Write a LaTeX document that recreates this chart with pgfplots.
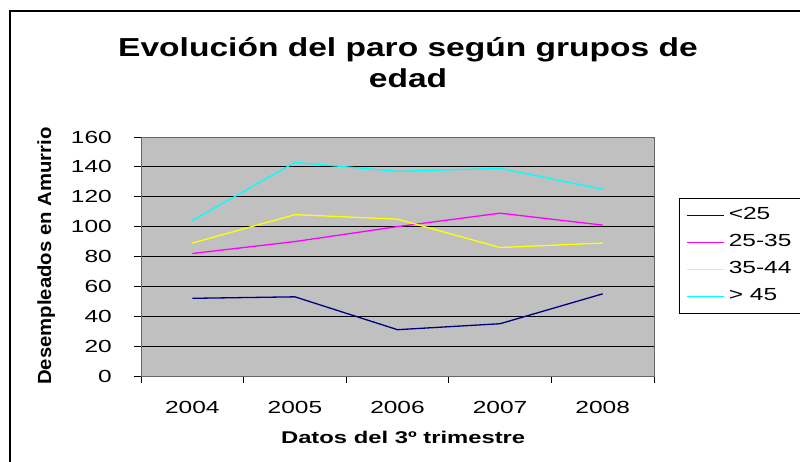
\documentclass[border=0pt]{standalone}
\usepackage{fontspec}
\setmainfont{Liberation Sans}
\usepackage{graphicx}
\usepackage{pgfplots}
\pgfplotsset{compat=1.18}
\newcommand\sx[1]{\scalebox{1.4}[1]{#1}}
\definecolor{plotgray}{HTML}{C0C0C0}
\definecolor{navyc}{HTML}{000080}
\definecolor{magc}{HTML}{FF00FF}
\definecolor{yelc}{HTML}{FFFF00}
\definecolor{cyac}{HTML}{00FFFF}
\begin{document}
\begin{tikzpicture}
\useasboundingbox (0,0) rectangle (800pt,462pt);
\draw[line width=2pt] (10pt,-2pt) -- (10pt,451pt) -- (805pt,451pt);
\node[font=\fontsize{26}{30}\selectfont\bfseries, anchor=base] at (408pt,405pt) {\scalebox{1.29}[1]{Evolución del paro según grupos de}};
\node[font=\fontsize{26}{30}\selectfont\bfseries, anchor=base] at (408pt,374pt) {\scalebox{1.29}[1]{edad}};
\begin{axis}[
  at={(141pt,86pt)}, anchor=south west,
  scale only axis, width=513pt, height=239pt,
  xmin=-0.5, xmax=4.5, ymin=0, ymax=160,
  axis background/.style={fill=plotgray},
  axis line style={draw=black!60, line width=0.8pt},
  xtick={0,1,2,3,4},
  xticklabels={\sx{2004},\sx{2005},\sx{2006},\sx{2007},\sx{2008}},
  major x tick style={draw=none},
  minor xtick={-0.5,0.5,1.5,2.5,3.5,4.5},
  ytick={0,20,40,60,80,100,120,140,160},
  yticklabels={\sx{0},\sx{20},\sx{40},\sx{60},\sx{80},\sx{100},\sx{120},\sx{140},\sx{160}},
  tick align=outside, tick pos=left,
  major tick length=7pt, minor tick length=7pt,
  tick style={black, line width=0.8pt},
  ymajorgrids, grid style={black, line width=0.8pt},
  tick label style={font=\fontsize{17.5}{20}\selectfont},
  yticklabel style={anchor=east, inner sep=0pt, xshift=-22pt},
  xticklabel style={anchor=center, inner sep=0pt, yshift=-24pt},
  ylabel={\scalebox{1.07}[1]{Desempleados en Amurrio}},
  every axis y label/.style={at={(axis description cs:-0.185,0.502)}, rotate=90, anchor=center,
    font=\fontsize{19}{22}\selectfont\bfseries},
  xlabel={\sx{Datos del 3º trimestre}},
  every axis x label/.style={at={(axis description cs:0.511,-0.259)}, anchor=center,
    font=\fontsize{17}{20}\selectfont\bfseries},
  legend style={at={(rel axis cs:1.0487,0.7448)}, anchor=north west, draw=black, line width=0.8pt,
    fill=white, inner xsep=7pt, inner ysep=7.5pt, row sep=8pt,
    font=\fontsize{17.5}{20}\selectfont,
    nodes={inner ysep=1pt, inner xsep=4.5pt, text height=13pt, text depth=4pt}},
  legend cell align=left,
  legend image code/.code={\draw[#1, line width=0.9pt] (0pt,0pt) -- (37pt,0pt);},
]
\addplot[navyc, line width=1.3pt] coordinates {(0,52)(1,53)(2,31)(3,35)(4,55)};
\addplot[magc, line width=1.3pt] coordinates {(0,82)(1,90)(2,100)(3,109)(4,101)};
\addplot[yelc, line width=1.3pt] coordinates {(0,89)(1,108)(2,105)(3,86)(4,89)};
\addplot[cyac, line width=1.3pt] coordinates {(0,104)(1,143)(2,137)(3,139)(4,125)};
\legend{\makebox[80pt][l]{\sx{<25}},\sx{25-35},\sx{35-44},\sx{> 45}}
\end{axis}
\end{tikzpicture}
\end{document}
